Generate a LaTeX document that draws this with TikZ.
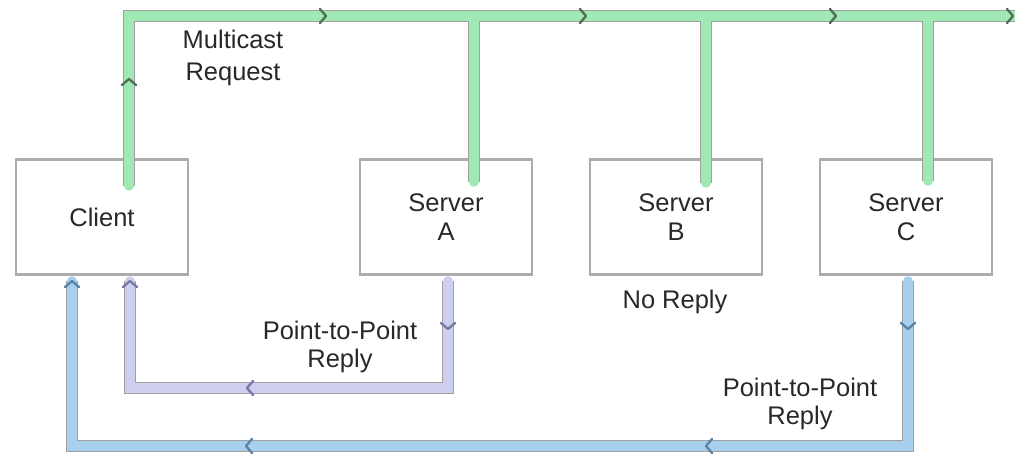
\documentclass[tikz,border=0pt]{standalone}
\usepackage{fontspec}
\setmainfont{Liberation Sans}
\usepackage{xcolor}
\usetikzlibrary{arrows.meta, positioning}

\definecolor{greenpipe}{RGB}{160,232,180}
\definecolor{purplepipe}{RGB}{206,206,238}
\definecolor{bluepipe}{RGB}{168,208,236}
\definecolor{pipeedge}{RGB}{160,160,160}
\definecolor{boxedge}{RGB}{172,172,172}
\definecolor{greenarrow}{RGB}{80,110,90}
\definecolor{purplearrow}{RGB}{120,120,165}
\definecolor{bluearrow}{RGB}{90,130,165}
\definecolor{txt}{RGB}{40,40,40}

\tikzset{
  host/.style = {draw = boxedge, line width = 1.2pt,
      minimum width = 3.44cm, minimum height = 2.3cm,
      align = center, text = txt,
      font = \fontsize{14.5}{16.5}\selectfont},
  lbl/.style = {align = center, text = txt,
      font = \fontsize{14.5}{16}\selectfont},
  pipe/.style = {draw = #1, line width = 0.19cm, line cap = round,
      preaction = {draw = pipeedge, line width = 0.255cm}},
  chevron/.style = {draw = #1, line width = 1.3pt,
      line cap = round, line join = round},
  chev/.pic = {\draw[chevron = #1] (-5,-7) -- (1,0) -- (-5,7);}
}

\begin{document}
\begin{tikzpicture}[x = 0.02cm, y = -0.02cm]
  \useasboundingbox (0,0) rectangle (1015,456);

  \node (client) [host] at (102,217) {Client};
  \node (srva) [host] at (446,217) {Server\\A};
  \node (srvb) [host] at (676,217) {Server\\B};
  \node (srvc) [host] at (906,217) {Server\\C};

  % Multicast bus
  \coordinate (mcout) at (129,186);
  \coordinate (busl) at (129,16);
  \coordinate (busr) at (1030,16);
  \coordinate (ina) at (474,182);
  \coordinate (inb) at (706,183);
  \coordinate (inc) at (928,181);

  \draw[pipe = greenpipe] (mcout) -- (busl) -- (busr)
      (ina |- busl) -- (ina)
      (inb |- busl) -- (inb)
      (inc |- busl) -- (inc);

  % Replies
  \coordinate (outa) at (448,281);
  \coordinate (lowa) at (448,388);
  \coordinate (rina) at (130,281);
  \coordinate (outc) at (908,281);
  \coordinate (lowc) at (908,446);
  \coordinate (rinc) at (72,281);

  \draw[pipe = purplepipe] (outa) -- (lowa) -| (rina);
  \draw[pipe = bluepipe] (outc) -- (lowc) -| (rinc);

  % Direction marks
  \pic at (325,16) {chev = greenarrow};
  \pic at (585,16) {chev = greenarrow};
  \pic at (835,16) {chev = greenarrow};
  \pic at (1012,16) {chev = greenarrow};
  \pic[rotate = 90] at (129,80) {chev = greenarrow};

  \pic[rotate = -90] at (448,328) {chev = purplearrow};
  \pic[rotate = 180] at (248,388) {chev = purplearrow};
  \pic[rotate = 90] at (130,282) {chev = purplearrow};

  \pic[rotate = -90] at (908,328) {chev = bluearrow};
  \pic[rotate = 180] at (707,446) {chev = bluearrow};
  \pic[rotate = 180] at (247,446) {chev = bluearrow};
  \pic[rotate = 90] at (72,282) {chev = bluearrow};

  % Labels
  \node (mclbl) [lbl, font = \fontsize{14.5}{18}\selectfont] at (233,58) {Multicast\\Request};
  \node (rpla) [lbl] at (340,347) {Point-to-Point\\Reply};
  \node (norpl) [lbl] at (675,302) {No Reply};
  \node (rplc) [lbl] at (800,404) {Point-to-Point\\Reply};

\end{tikzpicture}
\end{document}
